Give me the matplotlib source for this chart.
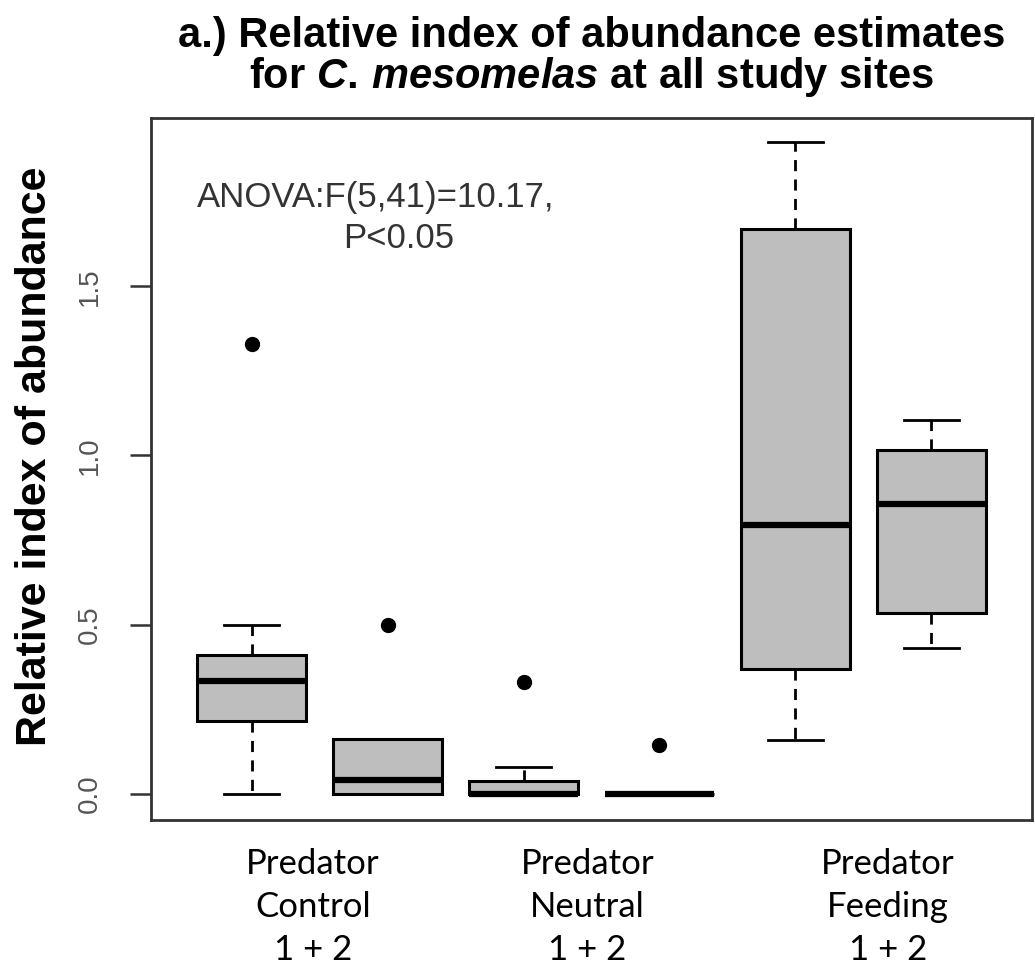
import matplotlib
matplotlib.use("Agg")
import matplotlib.pyplot as plt

# box statistics (R boxplot)
whisker_low = [0.0, 0.0, 0.0, 0.0, 0.16, 0.43]
q1 = [0.215, 0.0, 0.0, 0.0, 0.37, 0.535]
medians = [0.333, 0.042, 0.0, 0.0, 0.795, 0.857]
q3 = [0.41, 0.163, 0.038, 0.0, 1.67, 1.015]
whisker_high = [0.5, 0.163, 0.08, 0.0, 1.925, 1.105]
outliers = [[1.33], [0.5], [0.33], [0.145], [], []]

y_ticks = [0.0, 0.5, 1.0, 1.5]
y_ticklabels = ["0.0", "0.5", "1.0", "1.5"]

group_labels = ["Predator\nControl\n1 + 2", "Predator\nNeutral\n1 + 2", "Predator\nFeeding\n1 + 2"]
group_x = [1.45, 3.47, 5.68]

TITLE_1 = "a.) Relative index of abundance estimates"
TITLE_2 = r"for $C.\,mesomelas$ at all study sites"
Y_LABEL = "Relative index of abundance"
ANOVA_1 = "ANOVA:F(5,41)=10.17,"
ANOVA_2 = "P<0.05"


def main():
    plt.rcParams.update({
        "font.family": "Liberation Sans",
        "mathtext.fontset": "custom",
        "mathtext.rm": "Liberation Sans:bold",
        "mathtext.it": "Liberation Sans:bold:italic",
    })

    W, H = 1035, 969
    fig = plt.figure(figsize=(W / 100, H / 100), dpi=100)
    ax = fig.add_axes([151 / W, 1 - 820 / H, (1032 - 151) / W, (820 - 118) / H])

    stats = []
    for i in range(len(medians)):
        stats.append({
            "whislo": whisker_low[i], "q1": q1[i], "med": medians[i],
            "q3": q3[i], "whishi": whisker_high[i], "fliers": outliers[i],
        })

    ax.bxp(stats, positions=range(1, 7), widths=0.8, capwidths=0.4,
           patch_artist=True, manage_ticks=False,
           boxprops=dict(facecolor="#bebebe", edgecolor="black", linewidth=2.2),
           medianprops=dict(color="black", linewidth=4.5, solid_capstyle="butt"),
           whiskerprops=dict(color="black", linewidth=2, linestyle=(0, (4, 3))),
           capprops=dict(color="black", linewidth=2),
           flierprops=dict(marker="o", markerfacecolor="black",
                           markeredgecolor="black", markersize=10))

    ax.set_xlim(0.26, 6.74)
    ax.set_ylim(-0.077, 1.997)
    ax.set_xticks([])
    ax.set_yticks(y_ticks)
    ax.set_yticklabels(y_ticklabels, rotation=90, va="center",
                       fontsize=20, color="#555555")
    ax.tick_params(axis="y", length=15, width=1.8, color="#333333", pad=20)
    for s in ax.spines.values():
        s.set_linewidth(2)
        s.set_color("#333333")

    ax.text(0.052, 0.887, ANOVA_1, transform=ax.transAxes, fontsize=25,
            color="#333333", ha="left", va="center")
    ax.text(0.218, 0.829, ANOVA_2, transform=ax.transAxes, fontsize=25,
            color="#333333", ha="left", va="center")

    xc = (151 + 1032) / 2 / W
    fig.text(xc, 1 - 36 / H, TITLE_1, ha="center", va="center",
             fontsize=30, fontweight="bold")
    fig.text(xc, 1 - 77 / H, TITLE_2, ha="center", va="center",
             fontsize=30, fontweight="bold")
    fig.text(35 / W, 1 - 456 / H, Y_LABEL, rotation=90, ha="center",
             va="center", fontsize=31, fontweight="bold")

    for x, lab in zip(group_x, group_labels):
        ax.text(x, -0.16, lab, ha="center", va="top", fontsize=25,
                family="Lato", linespacing=1.42)

    fig.savefig("out.png", dpi=100)


if __name__ == '__main__':
    main()
